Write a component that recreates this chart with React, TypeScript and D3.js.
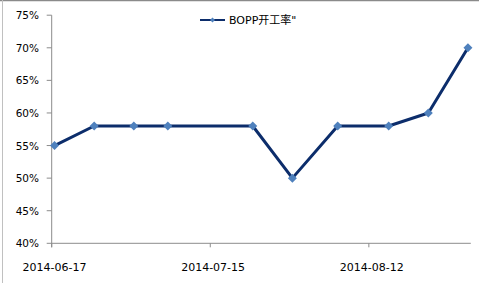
import React from "react";
import * as d3 from "d3";

const dates = ["2014-06-17", "2014-06-24", "2014-07-01", "2014-07-07", "2014-07-22", "2014-07-29", "2014-08-06", "2014-08-15", "2014-08-22", "2014-08-29"];
const rates = [55, 58, 58, 58, 58, 50, 58, 58, 60, 70];
const xTickDates = ["2014-06-17", "2014-07-15", "2014-08-12"];
const yTicks = [40, 45, 50, 55, 60, 65, 70, 75];
const seriesName = "BOPP开工率\"";

const W = 479;
const H = 283;
const parse = d3.timeParse("%Y-%m-%d");
const HALF_DAY = 12 * 3600 * 1000;
const FONT = "'DejaVu Sans', 'Noto Sans CJK SC', sans-serif";

export default function App() {
  const x = d3.scaleTime()
    .domain([parse("2014-06-17")!, parse("2014-08-30")!])
    .range([51.7, 470.8]);
  const y = d3.scaleLinear().domain([40, 75]).range([243.3, 15.2]);
  const pts = dates.map((d, i) => ({ t: new Date(parse(d)!.getTime() + HALF_DAY), v: rates[i] }));
  const line = d3.line<{ t: Date; v: number }>().x(p => x(p.t)).y(p => y(p.v));
  const diamond = (cx: number, cy: number, r: number) =>
    `M${cx},${cy - r}L${cx + r},${cy}L${cx},${cy + r}L${cx - r},${cy}Z`;
  const x0 = x.range()[0];
  const x1 = x.range()[1];
  const yb = y(40);
  return (
    <svg width={W} height={H} style={{ position: "absolute", left: 0, top: 0, background: "#fff" }}>
      <rect x={0} y={0} width={W} height={H} fill="#fff" />
      <line x1={0} x2={W} y1={0.5} y2={0.5} stroke="#8a8a8a" strokeWidth={1.5} />
      <line x1={2.5} x2={2.5} y1={0} y2={H} stroke="#c0c0c0" strokeWidth={1} />
      {/* y axis */}
      <line x1={x0} x2={x0} y1={y(75)} y2={yb + 4} stroke="#8c8c8c" strokeWidth={1} />
      {yTicks.map(t => (
        <g key={t}>
          <line x1={x0 - 5} x2={x0} y1={y(t)} y2={y(t)} stroke="#8c8c8c" strokeWidth={1} />
          <text x={39} y={y(t) + 4} textAnchor="end" fontFamily={FONT} fontSize={10.5} fill="#000">{t}%</text>
        </g>
      ))}
      {/* x axis */}
      <line x1={x0} x2={x1} y1={yb} y2={yb} stroke="#8c8c8c" strokeWidth={1} />
      {xTickDates.map(d => {
        const dt = parse(d)!;
        const tx = x(dt);
        return (
          <g key={d}>
            <line x1={tx} x2={tx} y1={yb} y2={yb + 4} stroke="#8c8c8c" strokeWidth={1} />
            <text x={x(new Date(dt.getTime() + HALF_DAY))} y={271} textAnchor="middle" fontFamily={FONT} fontSize={11} fill="#000">{d}</text>
          </g>
        );
      })}
      {/* series */}
      <path d={line(pts)!} fill="none" stroke="#0c2d6b" strokeWidth={3} strokeLinejoin="round" />
      {pts.map((p, i) => (
        <path key={i} d={diamond(x(p.t), y(p.v), 4.5)} fill="#4f81bd" />
      ))}
      {/* legend */}
      <line x1={200} x2={225} y1={20} y2={20} stroke="#0c2d6b" strokeWidth={2} />
      <path d={diamond(212.5, 20, 2.5)} fill="#4f81bd" />
      <text x={229} y={24} fontFamily={FONT} fontSize={11} fill="#000">{seriesName}</text>
    </svg>
  );
}
